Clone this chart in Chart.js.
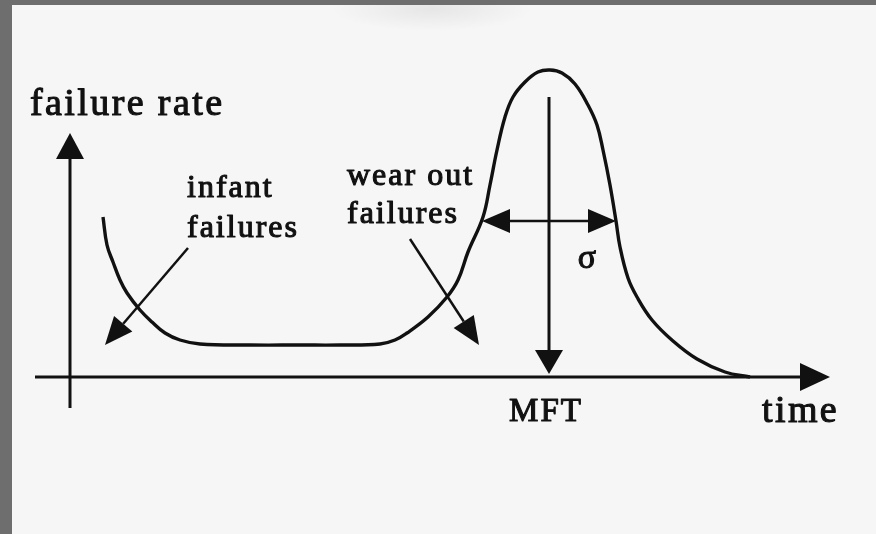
<!DOCTYPE html>
<html>
<head>
<meta charset="utf-8">
<script src="https://cdn.jsdelivr.net/npm/chart.js@4"></script>
<style>
  html, body { margin: 0; padding: 0; width: 876px; height: 534px; overflow: hidden; background: #6e6e6e; }
  #wrap {
    position: absolute; left: 12px; top: 5px; width: 864px; height: 529px;
    background: radial-gradient(ellipse 100px 22px at 420px 4px, #e6e6e6, rgba(246,246,246,0)), #f6f6f6;
  }
</style>
</head>
<body>
<div id="wrap"><canvas id="bathtub" width="864" height="529"></canvas></div>
<script>
// bathtub curve: early failures, flat useful life, then wear-out bump around MFT
var timePts = [3.3, 3.7, 4.3, 5.0, 5.7, 7.0, 8.2, 9.5, 11.0, 13.0, 18.0, 23.0, 27.0, 31.0, 32.5, 33.7, 35.8,
               37.7, 38.8, 39.8, 41.3, 42.0, 42.7, 43.5, 44.3, 45.5, 46.8, 48.0, 49.2, 50.5,
               51.8, 52.7, 53.3, 54.0, 54.6, 55.0, 55.8, 56.7, 58.2, 60.3, 62.7, 65.5, 68.0];
var ratePts = [16.0, 13.2, 11.5, 9.7, 8.4, 6.7, 5.5, 4.4, 3.7, 3.3, 3.2, 3.2, 3.2, 3.3, 3.7, 4.4, 6.0,
               8.0, 9.7, 12.5, 16.0, 19.2, 22.7, 26.0, 28.0, 29.5, 30.5, 30.7, 30.4, 29.3,
               27.2, 25.2, 22.7, 19.2, 15.6, 13.0, 9.9, 8.0, 5.7, 3.6, 1.8, 0.5, 0.0];
var mft = 47.9;       // mean failure time
var sigmaHalf = 6.7;  // half width of the sigma bar

// arrows and text, in data units
var arrows = [
  { from: [-3.5, 0], to: [76.0, 0], w: 3, len: 30, half: 14 },          // time axis
  { from: [0, -3.1], to: [0, 24.4], w: 3, len: 26, half: 14 },          // rate axis
  { from: [mft, 28.0], to: [mft, 0.3], w: 3, len: 24, half: 14 },       // MFT marker
  { from: [mft, 15.6], to: [mft - sigmaHalf, 15.6], w: 2.5, len: 28, half: 12 },
  { from: [mft, 15.6], to: [mft + sigmaHalf, 15.6], w: 2.5, len: 28, half: 12 },
  { from: [11.8, 12.9], to: [3.5, 3.2], w: 2.5, len: 28, half: 12 },    // infant
  { from: [34.0, 13.8], to: [40.9, 3.2], w: 2.5, len: 28, half: 12 }    // wear out
];
var notes = [
  { text: 'failure rate', x: -4.0, y: 26.2, size: 38, gap: 2.4, align: 'left' },
  { text: 'infant', x: 11.7, y: 18.0, size: 32, gap: 2, align: 'left' },
  { text: 'failures', x: 11.7, y: 14.0, size: 32, gap: 2, align: 'left' },
  { text: 'wear out', x: 27.7, y: 19.2, size: 32, gap: 2, align: 'left' },
  { text: 'failures', x: 27.7, y: 15.4, size: 32, gap: 2, align: 'left' },
  { text: 'MFT', x: mft - 0.4, y: -4.4, size: 33, gap: 2, align: 'center' },
  { text: 'time', x: 69.2, y: -4.5, size: 38, gap: 2.4, align: 'left' },
  { text: 'σ', x: 51.7, y: 10.9, size: 34, gap: 0, align: 'center' }
];

// letter-spaced text, one glyph at a time
function spacedText(ctx, text, x, y, gap, align) {
  var total = 0, i, w = [];
  for (i = 0; i < text.length; i++) { w.push(ctx.measureText(text[i]).width); total += w[i]; }
  total += gap * (text.length - 1);
  var cx = align === 'center' ? x - total / 2 : x;
  ctx.textAlign = 'left';
  for (i = 0; i < text.length; i++) {
    ctx.fillText(text[i], cx, y);
    ctx.strokeText(text[i], cx, y);
    cx += w[i] + gap;
  }
}

var sketch = {
  id: 'sketch',
  afterDatasetsDraw: function (chart) {
    var ctx = chart.ctx, sx = chart.scales.x, sy = chart.scales.y;
    ctx.save();
    ctx.strokeStyle = '#111';
    ctx.fillStyle = '#111';
    ctx.lineCap = 'butt';
    arrows.forEach(function (a) {
      var x1 = sx.getPixelForValue(a.from[0]), y1 = sy.getPixelForValue(a.from[1]);
      var x2 = sx.getPixelForValue(a.to[0]), y2 = sy.getPixelForValue(a.to[1]);
      var ang = Math.atan2(y2 - y1, x2 - x1);
      var bx = x2 - Math.cos(ang) * a.len, by = y2 - Math.sin(ang) * a.len;
      ctx.lineWidth = a.w;
      ctx.beginPath();
      ctx.moveTo(x1, y1);
      ctx.lineTo(bx, by);
      ctx.stroke();
      ctx.beginPath();
      ctx.moveTo(x2, y2);
      ctx.lineTo(bx + Math.sin(ang) * a.half, by - Math.cos(ang) * a.half);
      ctx.lineTo(bx - Math.sin(ang) * a.half, by + Math.cos(ang) * a.half);
      ctx.closePath();
      ctx.fill();
    });
    ctx.textBaseline = 'alphabetic';
    ctx.lineWidth = 1.1;
    ctx.lineJoin = 'round';
    notes.forEach(function (n) {
      ctx.font = n.size + 'px "Liberation Serif"';
      spacedText(ctx, n.text, sx.getPixelForValue(n.x), sy.getPixelForValue(n.y), n.gap, n.align);
    });
    ctx.restore();
  }
};

new Chart(document.getElementById('bathtub'), {
  type: 'line',
  data: {
    datasets: [{
      data: timePts.map(function (t, i) { return { x: t, y: ratePts[i] }; }),
      borderColor: '#111',
      borderWidth: 3.4,
      pointRadius: 0,
      fill: false,
      tension: 0.4
    }]
  },
  options: {
    responsive: false,
    animation: false,
    events: [],
    layout: { padding: 0 },
    plugins: { legend: { display: false }, tooltip: { enabled: false } },
    scales: {
      x: { type: 'linear', min: -5.8, max: 80.6, display: false },
      y: { type: 'linear', min: -15.7, max: 37.2, display: false }
    }
  },
  plugins: [sketch]
});
</script>
</body>
</html>
